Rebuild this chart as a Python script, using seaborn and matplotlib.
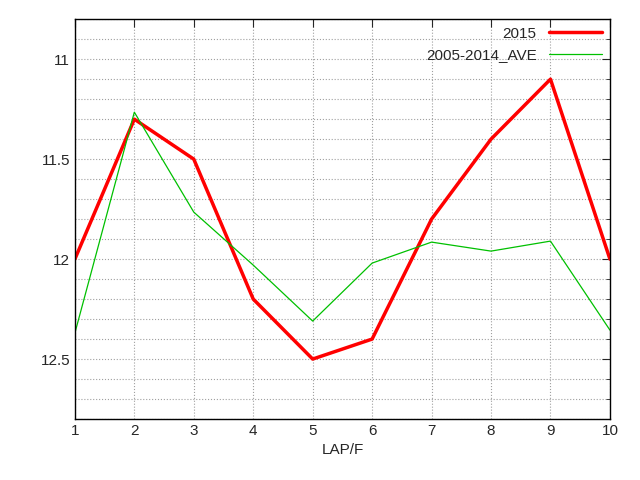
import matplotlib
matplotlib.use("Agg")
import matplotlib.pyplot as plt
import seaborn as sns
import pandas as pd
import numpy as np
from matplotlib.ticker import MultipleLocator

laps = [1, 2, 3, 4, 5, 6, 7, 8, 9, 10]
y2015 = [12.0, 11.3, 11.5, 12.2, 12.5, 12.4, 11.8, 11.4, 11.1, 12.0]
yave = [12.37, 11.265, 11.765, 12.03, 12.31, 12.02, 11.915, 11.96, 11.91, 12.355]

sns.set_style("white")
plt.rcParams['font.family'] = ['Liberation Sans', 'DejaVu Sans']

fig = plt.figure(figsize=(6.4, 4.8), dpi=100)
ax = fig.add_axes([0.117, 0.127, 0.836, 0.833])

df = pd.DataFrame({"lap": laps * 2, "t": y2015 + yave,
                   "s": ["2015"] * 10 + ["2005-2014_AVE"] * 10})
sns.lineplot(data=df[df.s == "2015"], x="lap", y="t", color="#ff0000", lw=2.5, ax=ax, label="2015")
sns.lineplot(data=df[df.s != "2015"], x="lap", y="t", color="#00c000", lw=0.9, ax=ax, label="2005-2014_AVE")

ax.set_xlim(1, 10)
ax.set_ylim(12.8, 10.8)
ax.set_xticks(laps)
ax.set_yticks([11, 11.5, 12, 12.5])
ax.set_yticklabels(["11", "11.5", "12", "12.5"])
ax.yaxis.set_minor_locator(MultipleLocator(0.1))
ax.grid(True, which="both", axis="y", color="#a0a0a0", ls=":", lw=0.8)
ax.grid(True, which="major", axis="x", color="#a0a0a0", ls=":", lw=0.8)
ax.tick_params(direction="in", top=True, right=True, which="both", labelsize=11)
ax.tick_params(which="minor", length=3)
ax.tick_params(which="major", length=6)
for s in ax.spines.values():
    s.set_color("black"); s.set_linewidth(1)
ax.set_xlabel("LAP/F", fontsize=11)
ax.set_ylabel("")
ax.legend(loc="upper right", frameon=False, markerfirst=False, fontsize=11,
          handlelength=3.5, borderaxespad=0.1)
fig.savefig("out.png", dpi=100)
